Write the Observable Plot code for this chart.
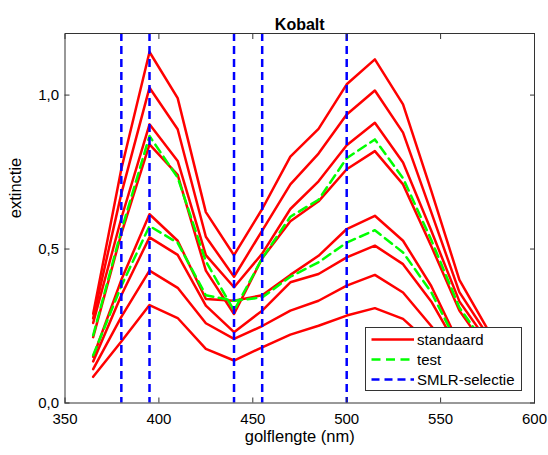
<!DOCTYPE html>
<html><head><meta charset="utf-8">
<script src="https://cdn.jsdelivr.net/npm/d3@7"></script>
<script src="https://cdn.jsdelivr.net/npm/@observablehq/plot@0.6"></script>
<style>
body{margin:0;background:#fff;font-family:"Liberation Sans",Arial,sans-serif;}
#wrap{position:relative;width:548px;height:455px;}
#legend{position:absolute;left:365px;top:327px;width:157px;height:64px;background:#fff;border:1px solid #333;box-sizing:border-box;}
#legend svg{display:block;}
</style>
</head><body>
<div id="wrap"></div>
<script>
const wavelengths = [365,380,395,410,425,440,455,470,485,500,515,530,545,560,575];
const standaard1 = [0.29,0.76,1.14,0.99,0.62,0.48,0.63,0.80,0.89,1.035,1.116,0.97,0.69,0.40,0.24];
const standaard2 = [0.275,0.68,1.024,0.889,0.54,0.41,0.56,0.71,0.81,0.937,1.015,0.878,0.62,0.36,0.22];
const standaard3 = [0.26,0.60,0.905,0.786,0.48,0.376,0.485,0.63,0.72,0.837,0.91,0.781,0.56,0.33,0.20];
const standaard4 = [0.214,0.55,0.84,0.741,0.43,0.289,0.47,0.59,0.655,0.759,0.818,0.71,0.51,0.30,0.17];
const standaard5 = [0.15,0.40,0.613,0.527,0.338,0.332,0.35,0.416,0.478,0.565,0.608,0.527,0.38,0.19,0.12];
const standaard6 = [0.135,0.35,0.538,0.481,0.316,0.23,0.30,0.392,0.419,0.473,0.511,0.451,0.33,0.17,0.10];
const standaard7 = [0.11,0.28,0.43,0.374,0.259,0.208,0.25,0.30,0.332,0.381,0.416,0.359,0.25,0.14,0.085];
const standaard8 = [0.085,0.20,0.318,0.276,0.176,0.138,0.181,0.222,0.251,0.284,0.308,0.273,0.19,0.11,0.07];
const test1 = [0.22,0.56,0.867,0.732,0.46,0.30,0.47,0.605,0.66,0.795,0.856,0.73,0.53,0.31,0.18];
const test2 = [0.155,0.38,0.575,0.52,0.35,0.332,0.343,0.41,0.457,0.521,0.561,0.489,0.36,0.18,0.11];
const smlrSelectie = [380,395,440,455,500];
const xTicks = [350,400,450,500,550,600];
const yTicks = [0,0.5,1.0];
const legendLabels = ["standaard","test","SMLR-selectie"];

const standards = [standaard1,standaard2,standaard3,standaard4,standaard5,standaard6,standaard7,standaard8];
const tests = [test1,test2];
const stdRows = standards.flatMap((s,i)=>s.map((v,j)=>({series:"s"+i,wl:wavelengths[j],value:v})));
const testRows = tests.flatMap((s,i)=>s.map((v,j)=>({series:"t"+i,wl:wavelengths[j],value:v})));
const fmt = d => d.toFixed(1).replace(".", ",");
const font = '"Liberation Sans", Arial, sans-serif';
const frameColor = "#333";

const chart = Plot.plot({
  width:548, height:455,
  marginLeft:64.5, marginRight:14, marginTop:33, marginBottom:52.5,
  x:{domain:[350,600]},
  y:{domain:[0,1.2]},
  style:{fontFamily:font, fontSize:"15px", color:"#000", background:"#fff"},
  marks:[
    Plot.line(stdRows,{x:"wl",y:"value",z:"series",stroke:"#ff0000",strokeWidth:2.5}),
    Plot.line(testRows,{x:"wl",y:"value",z:"series",stroke:"#00ff00",strokeWidth:2.5,strokeDasharray:"9,5.5"}),
    Plot.ruleX(smlrSelectie,{x:d=>d,stroke:"#0000ff",strokeWidth:2.5,strokeDasharray:"8,5"}),
    Plot.frame({stroke:frameColor}),
    Plot.axisX({ticks:xTicks,tickSize:0,tickPadding:10.5,label:null,fontSize:15}),
    Plot.axisX({ticks:xTicks,tickSize:5,dy:-5,text:null,label:null,stroke:frameColor}),
    Plot.axisX({ticks:xTicks,anchor:"top",tickSize:5,dy:5,text:null,label:null,stroke:frameColor}),
    Plot.axisY({ticks:yTicks,tickFormat:fmt,tickSize:0,tickPadding:6,label:null,fontSize:15}),
    Plot.axisY({ticks:yTicks,tickSize:5,dx:5,text:null,label:null,stroke:frameColor}),
    Plot.axisY({ticks:yTicks,anchor:"right",tickSize:5,dx:-5,text:null,label:null,stroke:frameColor}),
    Plot.text(["Kobalt"],{text:d=>d,frameAnchor:"top",dy:-15,fontWeight:"bold",fontSize:16}),
    Plot.text(["golflengte (nm)"],{text:d=>d,frameAnchor:"bottom",dy:38.5,fontSize:16.5}),
    Plot.text(["extinctie"],{text:d=>d,frameAnchor:"left",dx:-49,rotate:-90,fontSize:16.5})
  ]
});
const wrap = document.getElementById("wrap");
wrap.appendChild(chart);

// legend
const lg = document.createElement("div");
lg.id = "legend";
const styles = [
  {stroke:"#ff0000",dash:null},
  {stroke:"#00ff00",dash:"9,5.5"},
  {stroke:"#0000ff",dash:"8,5"}
];
const ns = "http://www.w3.org/2000/svg";
const svg = document.createElementNS(ns,"svg");
svg.setAttribute("width",155); svg.setAttribute("height",62);
legendLabels.forEach((lab,i)=>{
  const y = 11.5 + i*20;
  const l = document.createElementNS(ns,"line");
  l.setAttribute("x1",5.5); l.setAttribute("x2",48); l.setAttribute("y1",y); l.setAttribute("y2",y);
  l.setAttribute("stroke",styles[i].stroke); l.setAttribute("stroke-width",2.5);
  if (styles[i].dash) l.setAttribute("stroke-dasharray",styles[i].dash);
  svg.appendChild(l);
  const t = document.createElementNS(ns,"text");
  t.setAttribute("x",51); t.setAttribute("y",y); t.setAttribute("dy","0.35em");
  t.setAttribute("font-size",15); t.setAttribute("font-family",font);
  t.textContent = lab;
  svg.appendChild(t);
});
lg.appendChild(svg);
wrap.appendChild(lg);
</script>
</body></html>
